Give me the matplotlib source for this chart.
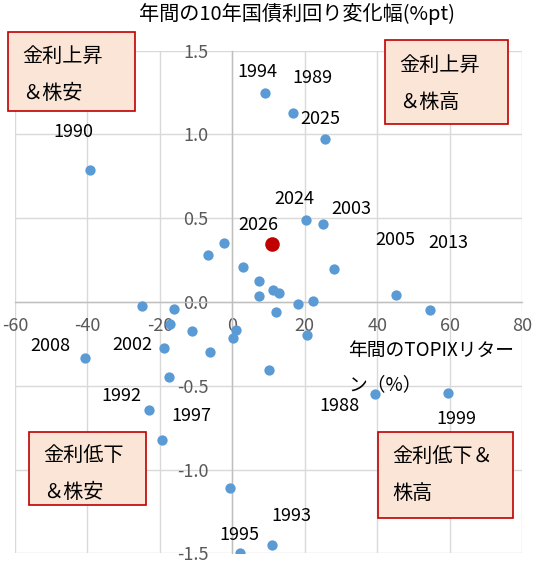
import matplotlib
matplotlib.use("Agg")
import matplotlib.pyplot as plt
from matplotlib.patches import Rectangle

plt.rcParams['font.family'] = ['Noto Sans CJK JP', 'DejaVu Sans']
plt.rcParams['axes.unicode_minus'] = False

# annual TOPIX return (%) vs annual change of 10y JGB yield (%pt)
topix_ret = [-39.4, 9.1, 16.9, 25.5, 20.4, 25.1, -2.4, -6.6, 3.0, 28.2,
             7.5, 11.2, 12.8, 7.4, 18.1, 22.2, 12.0, 20.6, 1.0, 0.3,
             -16.1, -17.1, -11.2, -6.2, -18.9, -17.4, 10.1, -24.9, -40.6, -22.9,
             -19.4, -0.5, 2.0, 10.9, 39.4, 59.7, 45.1, 54.5]
yield_chg = [0.79, 1.25, 1.13, 0.97, 0.49, 0.465, 0.354, 0.28, 0.206, 0.195,
             0.125, 0.073, 0.051, 0.033, -0.012, 0.004, -0.062, -0.195, -0.165, -0.217,
             -0.042, -0.134, -0.171, -0.30, -0.275, -0.45, -0.406, -0.026, -0.334, -0.643,
             -0.826, -1.11, -1.50, -1.452, -0.549, -0.543, 0.044, -0.048]

# latest year (highlighted)
latest_x = [10.9]
latest_y = [0.348]

# year labels and where their text sits
year_labels = ['1990', '1994', '1989', '2025', '2024', '2003', '2026', '2005', '2013',
               '2008', '2002', '1992', '1997', '1995', '1993', '1988', '1999']
label_x = [-43.9, 6.9, 22.0, 24.3, 17.2, 33.0, 7.3, 44.9, 59.6,
           -50.2, -27.5, -30.5, -11.4, 1.9, 16.4, 29.6, 62.0]
label_y = [1.016, 1.374, 1.337, 1.094, 0.615, 0.557, 0.461, 0.372, 0.352,
           -0.265, -0.259, -0.563, -0.682, -1.393, -1.275, -0.623, -0.698]

x_ticks = [-60, -40, -20, 0, 20, 40, 60, 80]
y_ticks = [-1.5, -1.0, -0.5, 0.0, 0.5, 1.0, 1.5]

fig = plt.figure(figsize=(5.37, 5.65), dpi=100)
ax = fig.add_axes([0.028, 0.0207, 0.944, 0.8896])
ax.set_xlim(-60, 80)
ax.set_ylim(-1.5, 1.5)

ax.set_xticks(x_ticks)
ax.set_yticks(y_ticks)
ax.set_xticklabels([str(v) for v in x_ticks])
ax.set_yticklabels(['%.1f' % v for v in y_ticks])
ax.grid(True, color='#D9D9D9', linewidth=1.0)
ax.set_axisbelow(True)

for s in ['top', 'right']:
    ax.spines[s].set_visible(False)
ax.spines['left'].set_position(('data', 0))
ax.spines['bottom'].set_position(('data', 0))
for s in ['left', 'bottom']:
    ax.spines[s].set_color('#BFBFBF')
    ax.spines[s].set_linewidth(1.0)
ax.tick_params(axis='x', length=0, pad=11, labelsize=13, labelcolor='#595959')
ax.tick_params(axis='y', length=0, pad=17, labelsize=13, labelcolor='#595959')

ax.scatter(topix_ret, yield_chg, s=55, color='#5B9BD5', zorder=3, linewidths=0)
ax.scatter(latest_x, latest_y, s=110, color='#C00000', zorder=4, linewidths=0)

for t, lx, ly in zip(year_labels, label_x, label_y):
    ax.text(lx, ly, t, fontsize=13, ha='center', va='center', color='#000000')

fig.text(0.553, 0.975, '年間の10年国債利回り変化幅(%pt)', fontsize=14.5, ha='center', va='center')
ax.text(32.0, -0.225, '年間のTOPIXリター\nン（%）', fontsize=13.5, ha='left', va='top',
        linespacing=1.85)

# quadrant boxes (pixel coordinates of figure), text centre y
boxes = [
    ((8, 32, 135, 111), 75, '金利上昇\n＆株安'),
    ((385, 40, 508, 124), 84, '金利上昇\n＆株高'),
    ((29, 432, 146, 505), 474, '金利低下\n＆株安'),
    ((378, 432, 513, 518), 475, '金利低下＆\n株高'),
]
W, H = 537, 565
for (x0, y0, x1, y1), ty, txt in boxes:
    r = Rectangle((x0 / W, 1 - y1 / H), (x1 - x0) / W, (y1 - y0) / H,
                  transform=fig.transFigure, facecolor='#FBE5D6', edgecolor='#C00000',
                  linewidth=1.2, zorder=5)
    fig.patches.append(r)
    fig.text((x0 + 14) / W, 1 - ty / H, txt, fontsize=14.5, ha='left',
             va='center', linespacing=1.95, zorder=6)

fig.savefig('out.png', dpi=100)
